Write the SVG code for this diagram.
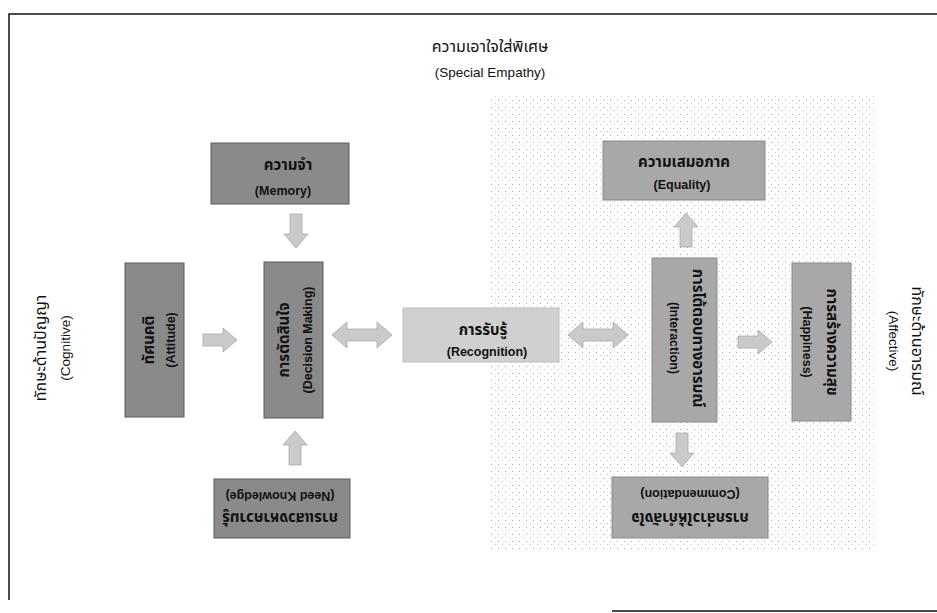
<svg xmlns="http://www.w3.org/2000/svg" width="937" height="613" viewBox="0 0 937 613">
<defs>
<pattern id="dots" width="7" height="7" patternUnits="userSpaceOnUse">
<rect x="1" y="2" width="1" height="1" fill="#a8a8a8"/>
<rect x="5" y="5" width="1" height="1" fill="#c4c4c4"/>
</pattern>
<path id="arr" d="M-17,-6 H3 V-12 L17,0 L3,12 V6 H-17 Z"/>
<path id="darr" d="M-30,0 L-15,-13 V-6 H15 V-13 L30,0 L15,13 V6 H-15 V13 Z"/>
</defs>
<style>
.th{font-family:"Noto Sans Thai","Noto Sans Thai UI","Loma","Garuda","Tlwg Typo","Noto Sans","DejaVu Sans",sans-serif;}
.en{font-family:"Liberation Sans","Noto Sans",sans-serif;}
.bt{font-size:15px;font-weight:bold;fill:#111;text-anchor:middle;dominant-baseline:central;}
.be{font-size:12.5px;font-weight:bold;fill:#111;text-anchor:middle;dominant-baseline:central;}
.lt{font-size:16px;fill:#111;text-anchor:middle;dominant-baseline:central;}
.le{font-size:13.5px;fill:#111;text-anchor:middle;dominant-baseline:central;}
.dark{fill:#8a8a8a;stroke:#5a5a5a;stroke-width:1;}
.mid{fill:#a8a8a8;stroke:#8a8a8a;stroke-width:1;}
.light{fill:#d0d0d0;stroke:#bdbdbd;stroke-width:1;}
.ar{fill:#cacaca;stroke:#a8a8a8;stroke-width:0.8;}
.frame{stroke:#111;stroke-width:1.5;fill:none;}
</style>
<rect width="937" height="613" fill="#ffffff"/>
<path class="frame" d="M9,600 V14 H937"/>
<path class="frame" d="M612,611 H937"/>
<rect x="490" y="95" width="385" height="455" fill="url(#dots)"/>

<g id="title">
<text class="th lt" x="490" y="47">ความเอาใจใส่พิเศษ</text>
<text class="en le" x="490" y="72">(Special Empathy)</text>
</g>
<g id="cognitive" transform="translate(53,348) rotate(-90)">
<text class="th lt" x="0" y="-12">ทักษะด้านปัญญา</text>
<text class="en le" x="0" y="12">(Cognitive)</text>
</g>
<g id="affective" transform="translate(905,341) rotate(90)">
<text class="th lt" x="0" y="-12">ทักษะด้านอารมณ์</text>
<text class="en le" x="0" y="12">(Affective)</text>
</g>

<g id="connectors">
<use href="#arr" class="ar" transform="translate(296,231) rotate(90)"/>
<use href="#arr" class="ar" transform="translate(220,340)"/>
<use href="#arr" class="ar" transform="translate(295,448) rotate(-90)"/>
<use href="#darr" class="ar" transform="translate(362,335)"/>
<use href="#darr" class="ar" transform="translate(598,335)"/>
<use href="#arr" class="ar" transform="translate(686,230) rotate(-90)"/>
<use href="#arr" class="ar" transform="translate(682,450) rotate(90)"/>
<use href="#arr" class="ar" transform="translate(755,342)"/>
</g>

<g id="memory">
<rect class="dark" x="211" y="143" width="138" height="61"/>
<text class="th bt" x="288" y="165">ความจำ</text>
<text class="en be" x="283" y="191">(Memory)</text>
</g>
<g id="attitude">
<rect class="dark" x="125" y="263" width="59" height="154"/>
<g transform="translate(160,340) rotate(-90)">
<text class="th bt" x="0" y="-11">ทัศนคติ</text>
<text class="en be" x="0" y="11">(Attitude)</text>
</g>
</g>
<g id="decision">
<rect class="dark" x="264" y="262" width="59" height="156"/>
<g transform="translate(296,340) rotate(-90)">
<text class="th bt" x="0" y="-12">การตัดสินใจ</text>
<text class="en be" x="0" y="12">(Decision Making)</text>
</g>
</g>
<g id="needknowledge">
<rect class="dark" x="214" y="479" width="136" height="59"/>
<g transform="translate(280,508) rotate(180)">
<text class="th bt" x="0" y="-9">การแสวงหาความรู้</text>
<text class="en be" x="0" y="12">(Need Knowledge)</text>
</g>
</g>
<g id="recognition">
<rect class="light" x="403" y="308" width="156" height="54"/>
<text class="th bt" x="483" y="330">การรับรู้</text>
<text class="en be" x="487" y="352">(Recognition)</text>
</g>
<g id="equality">
<rect class="mid" x="603" y="141" width="162" height="59"/>
<text class="th bt" x="684" y="162">ความเสมอภาค</text>
<text class="en be" x="682" y="185">(Equality)</text>
</g>
<g id="interaction">
<rect class="mid" x="652" y="258" width="65" height="164"/>
<g transform="translate(685.5,338) rotate(90)">
<text class="th bt" x="0" y="-12">การโต้ตอบทางอารมณ์</text>
<text class="en be" x="0" y="12">(Interaction)</text>
</g>
</g>
<g id="happiness">
<rect class="mid" x="792" y="263" width="59" height="158"/>
<g transform="translate(819,342) rotate(90)">
<text class="th bt" x="0" y="-12">การสร้างความสุข</text>
<text class="en be" x="0" y="12">(Happiness)</text>
</g>
</g>
<g id="commendation">
<rect class="mid" x="612" y="477" width="156" height="61"/>
<g transform="translate(690,507.5) rotate(180)">
<text class="th bt" x="0" y="-10">การกล่าวให้กำลังใจ</text>
<text class="en be" x="0" y="14">(Commendation)</text>
</g>
</g>
</svg>
